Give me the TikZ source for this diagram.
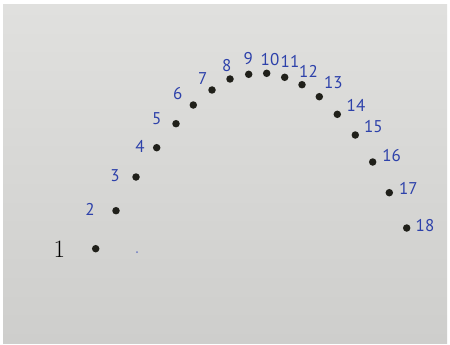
\documentclass[tikz,border=0pt]{standalone}
\usepackage{fontspec}
\newfontfamily\handfont{PT Sans}
\definecolor{papertop}{RGB}{224,224,222}
\definecolor{paperlow}{RGB}{206,206,204}
\definecolor{inkblue}{RGB}{45,65,170}
\definecolor{dotink}{RGB}{32,32,26}
\begin{document}
\begin{tikzpicture}[
            x=1pt, y=-1pt,
                dot/.style={circle, fill=dotink, draw=none, inner sep=0pt, minimum size=7.5pt},
                speck/.style={circle, fill=inkblue!70, draw=none, inner sep=0pt, minimum size=2pt},
                num/.style={text=inkblue, font=\handfont\fontsize{17}{17}\selectfont, inner sep=0pt},
                printed/.style={text=black, font=\fontsize{25}{25}\selectfont, inner sep=0pt}
            ]
              \useasboundingbox (0,0) rectangle (450,345);
              \fill[white] (0,0) rectangle (450,345);
              % sheet of paper
              \shade[top color=papertop, bottom color=paperlow] (3,5) rectangle (447,343);

              % dots along the arch
              \node[dot] (d1) at (95.7,248.7) {};
              \node[dot] (d2) at (116,210.7) {};
              \node[dot] (d3) at (136,177) {};
              \node[dot] (d4) at (156.7,147.7) {};
              \node[dot] (d5) at (176,123.7) {};
              \node[dot] (d6) at (193.3,105) {};
              \node[dot] (d7) at (212,90) {};
              \node[dot] (d8) at (230,79) {};
              \node[dot] (d9) at (248.7,74.3) {};
              \node[dot] (d10) at (266.7,73.3) {};
              \node[dot] (d11) at (284.7,77.3) {};
              \node[dot] (d12) at (302,84.7) {};
              \node[dot] (d13) at (319.3,96.7) {};
              \node[dot] (d14) at (337.3,114.3) {};
              \node[dot] (d15) at (355.3,135) {};
              \node[dot] (d16) at (372.7,162) {};
              \node[dot] (d17) at (389.3,192.7) {};
              \node[dot] (d18) at (406.7,228) {};
              \node[speck] (s1) at (137,252) {};

              % numbers
              \node[printed] (n1) at (59.3,249.3) {1};
              \node[num] (n2) at (90,209.3) {2};
              \node[num] (n3) at (115,176) {3};
              \node[num] (n4) at (140,146.7) {4};
              \node[num] (n5) at (156.7,118.3) {5};
              \node[num] (n6) at (177.7,94) {6};
              \node[num] (n7) at (202.7,78.7) {7};
              \node[num] (n8) at (226.7,65.3) {8};
              \node[num] (n9) at (248.3,58.7) {9};
              \node[num] (n10) at (270,60) {10};
              \node[num] (n11) at (290,61.7) {11};
              \node[num] (n12) at (308.5,71.3) {12};
              \node[num] (n13) at (333.3,82.7) {13};
              \node[num] (n14) at (356,105) {14};
              \node[num] (n15) at (373.3,126.7) {15};
              \node[num] (n16) at (391.7,155.3) {16};
              \node[num] (n17) at (408.3,188.3) {17};
              \node[num] (n18) at (425,225.3) {18};
            \end{tikzpicture}
\end{document}
